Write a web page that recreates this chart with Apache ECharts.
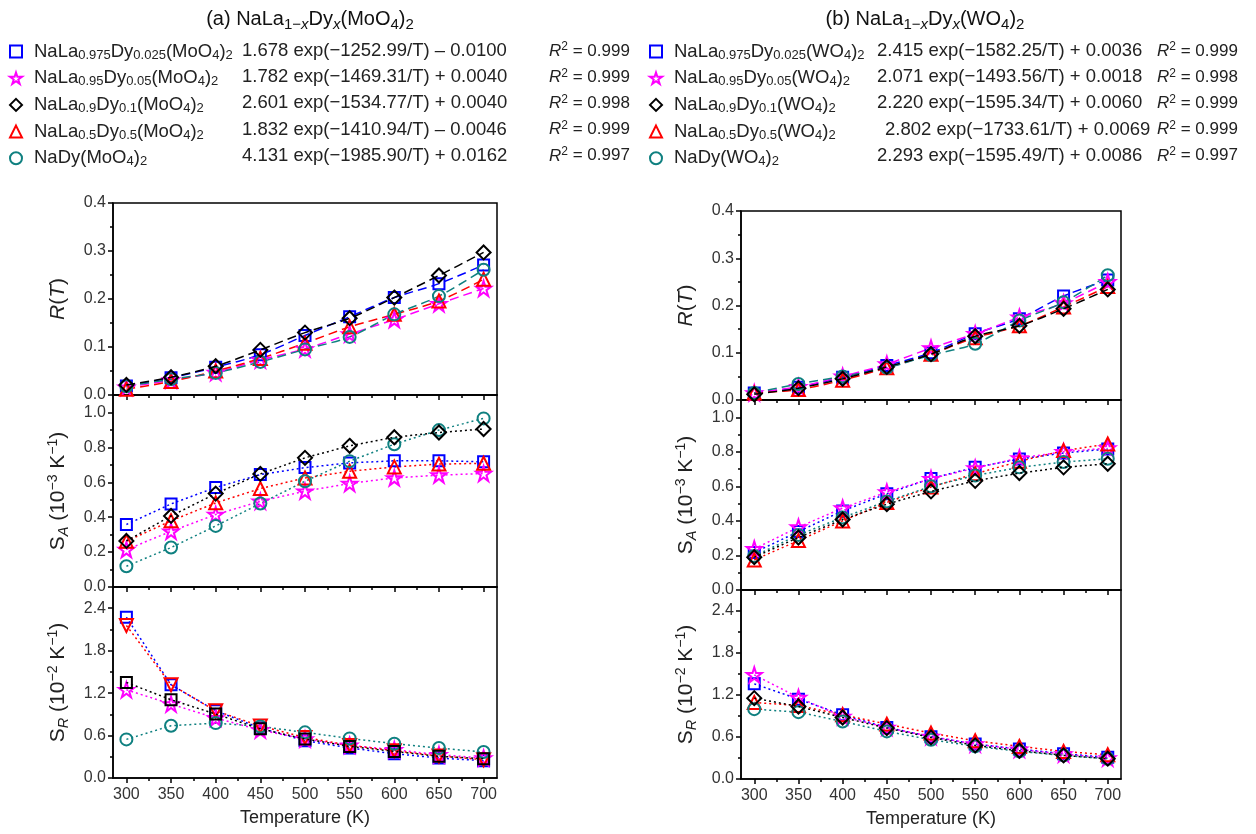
<!DOCTYPE html>
<html><head><meta charset="utf-8">
<script src="https://cdn.jsdelivr.net/npm/echarts@6/dist/echarts.min.js"></script>
<style>html,body{margin:0;padding:0;background:#fff}#c{width:1256px;height:834px}</style>
</head><body><div id="c"></div>
<script>
// ---------- data ----------
const T = [300, 350, 400, 450, 500, 550, 600, 650, 700];
const xMajorTicks = [300, 350, 400, 450, 500, 550, 600, 650, 700];
const xMinorTicks = [325, 375, 425, 475, 525, 575, 625, 675];
const yTicksR = [0, 0.1, 0.2, 0.3, 0.4];
const yMinorR = [0.05, 0.15, 0.25, 0.35];
const yTicksSA = [0, 0.2, 0.4, 0.6, 0.8, 1.0];
const yMinorSA = [0.1, 0.3, 0.5, 0.7, 0.9];
const yTicksSR = [0, 0.6, 1.2, 1.8, 2.4];
const yMinorSR = [0.3, 0.9, 1.5, 2.1];

// (a) NaLa1-xDyx(MoO4)2
const namesA = ['NaLa0.975Dy0.025(MoO4)2', 'NaLa0.95Dy0.05(MoO4)2', 'NaLa0.9Dy0.1(MoO4)2', 'NaLa0.5Dy0.5(MoO4)2', 'NaDy(MoO4)2'];
const partsA = [
  ['NaLa', '0.975', 'Dy', '0.025', '(MoO', '4', ')', '2'],
  ['NaLa', '0.95', 'Dy', '0.05', '(MoO', '4', ')', '2'],
  ['NaLa', '0.9', 'Dy', '0.1', '(MoO', '4', ')', '2'],
  ['NaLa', '0.5', 'Dy', '0.5', '(MoO', '4', ')', '2'],
  ['NaDy(MoO', '4', ')', '2']
];
const fitsA = ['1.678 exp(\u22121252.99/T) \u2013 0.0100', '1.782 exp(\u22121469.31/T) + 0.0040', '2.601 exp(\u22121534.77/T) + 0.0040', '1.832 exp(\u22121410.94/T) \u2013 0.0046', '4.131 exp(\u22121985.90/T) + 0.0162'];
const r2A = ['0.999', '0.999', '0.998', '0.999', '0.997'];

const aR_x0025 = [0.019, 0.036, 0.058, 0.084, 0.124, 0.163, 0.203, 0.232, 0.271];
const aR_x005  = [0.016, 0.031, 0.047, 0.073, 0.096, 0.127, 0.157, 0.190, 0.222];
const aR_x01   = [0.021, 0.037, 0.060, 0.094, 0.130, 0.160, 0.203, 0.249, 0.297];
const aR_x05   = [0.012, 0.028, 0.050, 0.076, 0.108, 0.142, 0.168, 0.196, 0.241];
const aR_x1    = [0.018, 0.033, 0.046, 0.069, 0.095, 0.121, 0.168, 0.206, 0.261];

const aSA_x0025 = [0.358, 0.476, 0.570, 0.644, 0.684, 0.711, 0.723, 0.723, 0.717];
const aSA_x005  = [0.214, 0.319, 0.415, 0.491, 0.549, 0.593, 0.625, 0.641, 0.650];
const aSA_x01   = [0.264, 0.407, 0.535, 0.648, 0.740, 0.809, 0.858, 0.885, 0.905];
const aSA_x05   = [0.262, 0.379, 0.482, 0.564, 0.625, 0.663, 0.688, 0.704, 0.709];
const aSA_x1    = [0.119, 0.226, 0.350, 0.478, 0.606, 0.721, 0.818, 0.899, 0.966];

const aSR_x0025 = [2.273, 1.318, 0.950, 0.706, 0.527, 0.424, 0.344, 0.282, 0.245];
const aSR_x005  = [1.247, 1.045, 0.847, 0.678, 0.551, 0.461, 0.400, 0.329, 0.282];
const aSR_x01   = [1.351, 1.106, 0.904, 0.696, 0.551, 0.447, 0.376, 0.306, 0.273];
const aSR_x05   = [2.155, 1.318, 0.951, 0.734, 0.574, 0.461, 0.386, 0.311, 0.259];
const aSR_x1    = [0.546, 0.739, 0.776, 0.729, 0.645, 0.560, 0.485, 0.424, 0.367];

// (b) NaLa1-xDyx(WO4)2
const namesB = ['NaLa0.975Dy0.025(WO4)2', 'NaLa0.95Dy0.05(WO4)2', 'NaLa0.9Dy0.1(WO4)2', 'NaLa0.5Dy0.5(WO4)2', 'NaDy(WO4)2'];
const partsB = [
  ['NaLa', '0.975', 'Dy', '0.025', '(WO', '4', ')', '2'],
  ['NaLa', '0.95', 'Dy', '0.05', '(WO', '4', ')', '2'],
  ['NaLa', '0.9', 'Dy', '0.1', '(WO', '4', ')', '2'],
  ['NaLa', '0.5', 'Dy', '0.5', '(WO', '4', ')', '2'],
  ['NaDy(WO', '4', ')', '2']
];
const fitsB = ['2.415 exp(\u22121582.25/T) + 0.0036', '2.071 exp(\u22121493.56/T) + 0.0018', '2.220 exp(\u22121595.34/T) + 0.0060', '2.802 exp(\u22121733.61/T) + 0.0069', '2.293 exp(\u22121595.49/T) + 0.0086'];
const r2B = ['0.999', '0.998', '0.999', '0.999', '0.997'];

const bR_x0025 = [0.015, 0.027, 0.048, 0.073, 0.100, 0.140, 0.172, 0.220, 0.254];
const bR_x005  = [0.015, 0.028, 0.050, 0.076, 0.110, 0.140, 0.175, 0.205, 0.250];
const bR_x01   = [0.012, 0.025, 0.045, 0.070, 0.097, 0.135, 0.157, 0.193, 0.234];
const bR_x05   = [0.015, 0.022, 0.042, 0.068, 0.097, 0.132, 0.157, 0.197, 0.240];
const bR_x1    = [0.015, 0.034, 0.050, 0.068, 0.095, 0.119, 0.168, 0.207, 0.264];

const bSA_x0025 = [0.217, 0.338, 0.458, 0.557, 0.646, 0.710, 0.758, 0.793, 0.816];
const bSA_x005  = [0.238, 0.364, 0.474, 0.567, 0.644, 0.706, 0.764, 0.800, 0.822];
const bSA_x01   = [0.190, 0.304, 0.408, 0.497, 0.571, 0.632, 0.677, 0.710, 0.731];
const bSA_x05   = [0.174, 0.286, 0.400, 0.507, 0.596, 0.673, 0.745, 0.807, 0.845];
const bSA_x1    = [0.197, 0.319, 0.420, 0.513, 0.600, 0.663, 0.710, 0.741, 0.760];

const bSR_x0025 = [1.359, 1.141, 0.917, 0.737, 0.604, 0.499, 0.428, 0.361, 0.309];
const bSR_x005  = [1.488, 1.164, 0.893, 0.737, 0.608, 0.499, 0.423, 0.356, 0.299];
const bSR_x01   = [1.155, 1.036, 0.879, 0.727, 0.594, 0.480, 0.404, 0.337, 0.290];
const bSR_x05   = [1.093, 1.050, 0.917, 0.784, 0.656, 0.546, 0.466, 0.394, 0.347];
const bSR_x1    = [0.998, 0.955, 0.822, 0.680, 0.561, 0.466, 0.394, 0.337, 0.290];

// ---------- styling / layout ----------
const FONT = "'Liberation Sans', Arial, Helvetica, sans-serif";
const COLORS = ['#0000ff', '#ff00ff', '#000000', '#ff0000', '#0f8080'];
const STAR = 'path://M50,2 L61.2,36.5 L97.6,36.5 L68.2,57.9 L79.4,92.5 L50,71.1 L20.6,92.5 L31.8,57.9 L2.4,36.5 L38.8,36.5 Z';
const SYMBOLS = ['rect', STAR, 'diamond', 'triangle', 'circle'];
const SIZES = [11, 15, 14, 13, 12];

const sides = [
  { names: namesA, parts: partsA, fits: fitsA, r2: r2A,
    panels: [[aR_x0025, aR_x005, aR_x01, aR_x05, aR_x1],
             [aSA_x0025, aSA_x005, aSA_x01, aSA_x05, aSA_x1],
             [aSR_x0025, aSR_x005, aSR_x01, aSR_x05, aSR_x1]] },
  { names: namesB, parts: partsB, fits: fitsB, r2: r2B,
    panels: [[bR_x0025, bR_x005, bR_x01, bR_x05, bR_x1],
             [bSA_x0025, bSA_x005, bSA_x01, bSA_x05, bSA_x1],
             [bSR_x0025, bSR_x005, bSR_x01, bSR_x05, bSR_x1]] }
];

const gridBoxes = [
  { left: 113, top: 203, width: 384, height: 192 },
  { left: 113, top: 395, width: 384, height: 192 },
  { left: 113, top: 587, width: 384, height: 191 },
  { left: 741, top: 211, width: 380, height: 189 },
  { left: 741, top: 400, width: 380, height: 190 },
  { left: 741, top: 590, width: 380, height: 189 }
];
const yMaxes = [0.4, 1.1, 2.7];
const yMajors = [yTicksR, yTicksSA, yTicksSR];
const yMinors = [yMinorR, yMinorSA, yMinorSR];
const yNames = [
  '{i|R}{n|(}{i|T}{n|)}',
  '{n|S}{sb|A}{n| (10}{sp|\u22123}{n| K}{sp|\u22121}{n|)}',
  '{n|S}{sb|R}{n| (10}{sp|\u22122}{n| K}{sp|\u22121}{n|)}'
];
const nameRich = {
  n: { fontSize: 21, lineHeight: 25, fontFamily: FONT, color: '#222' },
  i: { fontSize: 21, lineHeight: 25, fontStyle: 'italic', fontFamily: FONT, color: '#222' },
  sb: { fontSize: 14.5, lineHeight: 14, fontStyle: 'italic', verticalAlign: 'bottom', fontFamily: FONT, color: '#222' },
  sp: { fontSize: 14, lineHeight: 14, verticalAlign: 'top', fontFamily: FONT, color: '#222' }
};

const grid = [], xAxis = [], yAxis = [], series = [];
const axisLineStyle = { color: '#000', width: 1.5 };

gridBoxes.forEach((g, p) => {
  const k = p % 3;
  const s = Math.floor(p / 3);
  grid.push(Object.assign({ show: true, borderColor: '#000', borderWidth: 1.5, backgroundColor: 'transparent' }, g));
  xAxis.push({
    type: 'value', gridIndex: p, min: 285, max: 715, position: 'bottom',
    axisLine: { show: true, onZero: false, lineStyle: axisLineStyle },
    axisTick: { show: true, customValues: xMajorTicks, length: 5, lineStyle: axisLineStyle },
    axisLabel: { show: k === 2, customValues: xMajorTicks, fontSize: 16, color: '#333', fontFamily: FONT, margin: 9 },
    splitLine: { show: false },
    name: k === 2 ? 'Temperature (K)' : '', nameLocation: 'middle', nameGap: 31,
    nameTextStyle: { fontSize: 18, color: '#222', fontFamily: FONT }
  });
  xAxis.push({
    type: 'value', gridIndex: p, min: 285, max: 715, position: 'bottom',
    axisLine: { show: false, onZero: false },
    axisTick: { show: true, customValues: xMinorTicks, length: 3, lineStyle: axisLineStyle },
    axisLabel: { show: false }, splitLine: { show: false }
  });
  yAxis.push({
    type: 'value', gridIndex: p, min: 0, max: yMaxes[k], position: 'left',
    axisLine: { show: true, onZero: false, lineStyle: axisLineStyle },
    axisTick: { show: true, customValues: yMajors[k], length: 5, lineStyle: axisLineStyle },
    axisLabel: { show: true, customValues: yMajors[k], fontSize: 16, color: '#333', fontFamily: FONT, margin: 7,
      formatter: v => (+v).toFixed(1) },
    splitLine: { show: false },
    name: yNames[k], nameLocation: 'middle', nameRotate: 90, nameGap: 42,
    nameTextStyle: { rich: nameRich, fontFamily: FONT, fontSize: 21, color: '#222' }
  });
  yAxis.push({
    type: 'value', gridIndex: p, min: 0, max: yMaxes[k], position: 'left',
    axisLine: { show: false, onZero: false },
    axisTick: { show: true, customValues: yMinors[k], length: 3, lineStyle: axisLineStyle },
    axisLabel: { show: false }, splitLine: { show: false }
  });

  const side = sides[s];
  side.panels[k].forEach((vals, j) => {
    let sym = SYMBOLS[j], rot = 0;
    if (s === 0 && k === 2 && j === 2) sym = 'rect';
    if (s === 0 && k === 2 && j === 3) rot = 180;
    series.push({
      type: 'line', name: side.names[j], xAxisIndex: 2 * p, yAxisIndex: 2 * p,
      data: T.map((t, i) => [t, vals[i]]),
      symbol: sym, symbolSize: sym === 'rect' ? 11 : SIZES[j], symbolRotate: rot,
      smooth: k === 0 ? 0.3 : false,
      lineStyle: { color: COLORS[j], width: 1.5, type: k === 0 ? [9, 5] : [2, 3] },
      itemStyle: { color: 'rgba(255,255,255,0)', borderColor: COLORS[j], borderWidth: 2 },
      emphasis: { disabled: true }, silent: true, z: 2 + (j === 2 ? 1 : 0)
    });
  });
});

function richStr(parts) {
  return '{g| }' + parts.map((p, i) => (i % 2 === 0 ? '{n|' + p + '}' : '{s|' + p + '}')).join('');
}
const legendRich = {
  g: { width: 7, fontSize: 18.5, lineHeight: 20, fontFamily: FONT },
  n: { fontSize: 18.5, lineHeight: 20, fontFamily: FONT, color: '#222' },
  s: { fontSize: 13, lineHeight: 12, verticalAlign: 'bottom', fontFamily: FONT, color: '#222' }
};
const LEGEND_ICONS = ['rect', STAR, 'diamond', 'triangle', 'circle'];
const legend = sides.map((side, s) => ({
  orient: 'vertical', left: s === 0 ? 9 : 649, top: 42, padding: 0,
  itemWidth: 12, itemHeight: 12, itemGap: 7.2, selectedMode: false, symbolKeepAspect: true,
  data: side.names.map((n, j) => ({ name: n, icon: LEGEND_ICONS[j] })),
  formatter: name => richStr(side.parts[side.names.indexOf(name)]),
  textStyle: { color: '#222', fontFamily: FONT, fontSize: 18.5, rich: legendRich },
  itemStyle: { borderWidth: 2 }
}));

const graphic = [];
const titleRich = {
  t: { fontSize: 20, lineHeight: 26, fontFamily: FONT, color: '#111' },
  s: { fontSize: 15, lineHeight: 14, verticalAlign: 'bottom', fontFamily: FONT, color: '#111' },
  si: { fontSize: 15, lineHeight: 14, verticalAlign: 'bottom', fontStyle: 'italic', fontFamily: FONT, color: '#111' }
};
graphic.push({ type: 'text', x: 310, y: 19, style: { text: '{t|(a) NaLa}{s|1\u2212}{si|x}{t|Dy}{si|x}{t|(MoO}{s|4}{t|)}{s|2}', rich: titleRich, align: 'center', verticalAlign: 'middle', fill: '#111' } });
graphic.push({ type: 'text', x: 925, y: 19, style: { text: '{t|(b) NaLa}{s|1\u2212}{si|x}{t|Dy}{si|x}{t|(WO}{s|4}{t|)}{s|2}', rich: titleRich, align: 'center', verticalAlign: 'middle', fill: '#111' } });

const r2Rich = {
  i: { fontSize: 17, lineHeight: 20, fontStyle: 'italic', fontFamily: FONT, color: '#222' },
  p: { fontSize: 12, lineHeight: 12, verticalAlign: 'top', fontFamily: FONT, color: '#222' },
  n: { fontSize: 17, lineHeight: 20, fontFamily: FONT, color: '#222' }
};
sides.forEach((side, s) => {
  side.fits.forEach((f, j) => {
    const y = 51 + j * 26.2;
    let fx = s === 0 ? 242 : 877;
    if (s === 1 && j === 3) fx = 885;
    graphic.push({ type: 'text', x: fx, y: y, style: { text: f, font: '18.5px ' + FONT, fill: '#222', verticalAlign: 'middle' } });
    graphic.push({ type: 'text', x: s === 0 ? 549 : 1157, y: y, style: { text: '{i|R}{p|2}{n| = ' + side.r2[j] + '}', rich: r2Rich, verticalAlign: 'middle', fill: '#222' } });
  });
});

const chart = echarts.init(document.getElementById('c'), null, { renderer: 'canvas' });
chart.setOption({
  animation: false,
  backgroundColor: '#fff',
  grid, xAxis, yAxis, series, legend, graphic
});
</script>
</body></html>
